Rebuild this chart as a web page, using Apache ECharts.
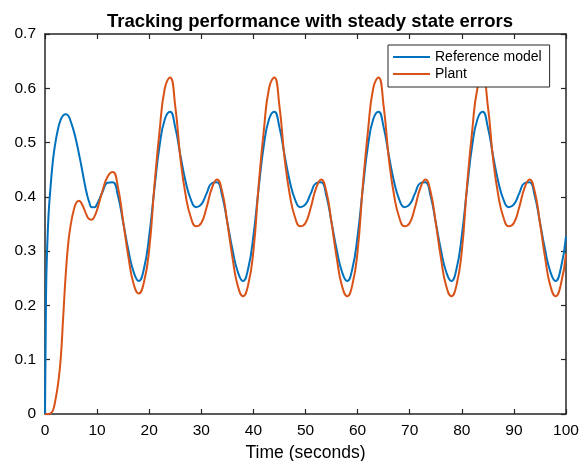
<!DOCTYPE html>
<html>
<head>
<meta charset="utf-8">
<script src="https://cdn.jsdelivr.net/npm/echarts@6/dist/echarts.min.js"></script>
<style>html,body{margin:0;padding:0;background:#fff;}#c{width:581px;height:461px;}</style>
</head>
<body>
<div id="c"></div>
<script>
const titleText = 'Tracking performance with steady state errors';
const xAxisName = 'Time (seconds)';
const seriesNames = ['Reference model', 'Plant'];

const time = [0,0.2,0.4,0.7,1,1.5,2,2.5,3,3.5,4,4.5,5,5.5,6,6.5,7,7.5,
  8,8.5,9,9.5,10,11,12,13,14,15,16,17,18,19,20,
  21,22,23,24,25,26,27,28,29,30,31,32,33,34,35,36,37,38,39,40,
  41,42,43,44,45,46,47,48,49,50,51,52,53,54,55,56,57,58,59,60,
  61,62,63,64,65,66,67,68,69,70,71,72,73,74,75,76,77,78,79,80,
  81,82,83,84,85,86,87,88,89,90,91,92,93,94,95,96,97,98,99,100];

const reference = [0,0.22,0.3,0.37,0.41,0.465,0.5,0.525,0.542,0.55,0.552,0.549,0.537,0.522,0.503,0.48,0.456,0.43,
  0.407,0.39,0.381,0.381,0.387,0.408,0.426,0.427,0.402,0.353,0.302,0.262,0.245,0.268,0.328,
  0.415,0.495,0.543,0.557,0.528,0.476,0.428,0.395,0.381,0.386,0.406,0.425,0.427,0.402,0.353,0.302,0.262,0.245,0.268,0.328,
  0.415,0.495,0.543,0.557,0.528,0.476,0.428,0.395,0.381,0.386,0.406,0.425,0.427,0.402,0.353,0.302,0.262,0.245,0.268,0.328,
  0.415,0.495,0.543,0.557,0.528,0.476,0.428,0.395,0.381,0.386,0.406,0.425,0.427,0.402,0.353,0.302,0.262,0.245,0.268,0.328,
  0.415,0.495,0.543,0.557,0.528,0.476,0.428,0.395,0.381,0.386,0.406,0.425,0.427,0.402,0.353,0.302,0.262,0.245,0.268,0.327];

const plant = [0,0,0,0,0.001,0.006,0.026,0.055,0.1,0.18,0.26,0.318,0.352,0.375,0.389,0.393,0.388,0.378,
  0.366,0.359,0.358,0.364,0.376,0.41,0.437,0.446,0.418,0.355,0.29,0.24,0.222,0.243,0.303,
  0.42,0.522,0.6,0.62,0.567,0.47,0.403,0.362,0.346,0.352,0.38,0.415,0.432,0.41,0.352,0.287,0.236,0.217,0.238,0.3,
  0.42,0.522,0.6,0.62,0.567,0.47,0.403,0.362,0.346,0.352,0.38,0.415,0.432,0.41,0.352,0.287,0.236,0.217,0.238,0.3,
  0.42,0.522,0.6,0.62,0.567,0.47,0.403,0.362,0.346,0.352,0.38,0.415,0.432,0.41,0.352,0.287,0.236,0.217,0.238,0.3,
  0.42,0.522,0.6,0.62,0.567,0.47,0.403,0.362,0.346,0.352,0.38,0.415,0.432,0.41,0.352,0.287,0.236,0.217,0.238,0.295];

const xMin = 0, xMax = 100, xStep = 10;
const yMin = 0, yMax = 0.7, yStep = 0.1;

const FONT = '"Liberation Sans", Arial, Helvetica, sans-serif';
const AXC = '#262626';
const chart = echarts.init(document.getElementById('c'), null, {renderer: 'canvas'});

function pairs(vals) { return time.map((t, i) => [t, vals[i]]); }

const baseX = {
  type: 'value', min: xMin, max: xMax, interval: xStep,
  axisLine: {show: true, onZero: false, lineStyle: {color: AXC, width: 1.5}},
  axisTick: {show: true, inside: true, length: 5, lineStyle: {color: AXC, width: 1.2}},
  splitLine: {show: false}
};
const baseY = {
  type: 'value', min: yMin, max: yMax, interval: yStep,
  axisLine: {show: true, onZero: false, lineStyle: {color: AXC, width: 1.5}},
  axisTick: {show: true, inside: true, length: 5, lineStyle: {color: AXC, width: 1.2}},
  splitLine: {show: false}
};

chart.setOption({
  backgroundColor: '#fff',
  animation: false,
  title: {
    text: titleText, left: 305, top: 7, textAlign: 'center',
    textStyle: {fontFamily: FONT, fontSize: 18.5, fontWeight: 'bold', color: '#000'}
  },
  grid: {left: 45, right: 15, top: 34, bottom: 47, containLabel: false, outerBoundsMode: 'none'},
  legend: {
    data: seriesNames, orient: 'vertical', left: 388, top: 45,
    icon: 'rect', itemWidth: 37, itemHeight: 2, itemGap: 3,
    padding: [5, 8, 6, 5],
    borderColor: AXC, borderWidth: 1, backgroundColor: '#fff',
    textStyle: {fontFamily: FONT, fontSize: 14, color: '#000'}
  },
  xAxis: [
    Object.assign({}, baseX, {
      position: 'bottom',
      axisLabel: {fontFamily: FONT, fontSize: 15.5, color: '#000', margin: 9},
      name: xAxisName, nameLocation: 'middle', nameGap: 30,
      nameTextStyle: {fontFamily: FONT, fontSize: 17.5, color: '#000'}
    }),
    Object.assign({}, baseX, {position: 'top', axisLabel: {show: false}})
  ],
  yAxis: [
    Object.assign({}, baseY, {
      position: 'left',
      axisLabel: {fontFamily: FONT, fontSize: 15.5, color: '#000', margin: 9}
    }),
    Object.assign({}, baseY, {position: 'right', axisLabel: {show: false}})
  ],
  series: [
    {name: seriesNames[0], type: 'line', data: pairs(reference), xAxisIndex: 0, yAxisIndex: 0,
     showSymbol: false, smooth: 0.5, color: '#0072BD', lineStyle: {width: 2, color: '#0072BD'}, z: 2},
    {name: seriesNames[1], type: 'line', data: pairs(plant), xAxisIndex: 0, yAxisIndex: 0,
     showSymbol: false, smooth: 0.5, color: '#D95319', lineStyle: {width: 2, color: '#D95319'}, z: 3}
  ]
});
</script>
</body>
</html>
